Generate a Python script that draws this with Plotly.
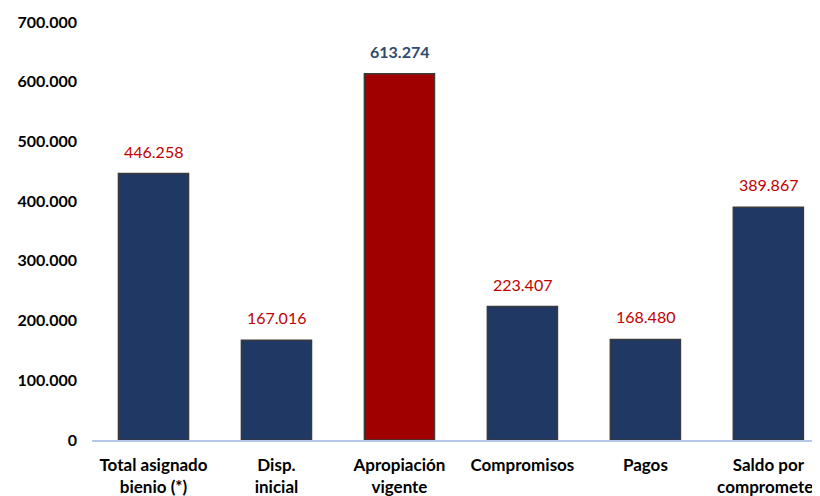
import plotly.graph_objects as go

categories = ["Total asignado<br>bienio (*)", "Disp.<br>inicial", "Apropiación<br>vigente",
              "Compromisos", "Pagos", "Saldo por<br>comprometer"]
values = [446258, 167016, 613274, 223407, 168480, 389867]
value_labels = ["446.258", "167.016", "613.274", "223.407", "168.480", "389.867"]
tick_vals = [0, 100000, 200000, 300000, 400000, 500000, 600000, 700000]
tick_text = ["0", "100.000", "200.000", "300.000", "400.000", "500.000", "600.000", "700.000"]

NAVY = "#1F3864"
RED = "#A00000"
bar_colors = [RED if i == 2 else NAVY for i in range(len(values))]
label_colors = ["#2E4A6E" if i == 2 else "#C00000" for i in range(len(values))]
label_bold = [i == 2 for i in range(len(values))]

FONT = "Lato"

fig = go.Figure()
fig.add_trace(go.Bar(
    x=list(range(len(categories))), y=values,
    marker=dict(color=bar_colors, line=dict(color="#3A3A3A", width=1.5)),
    width=0.57,
    hoverinfo="skip",
))

for i, (v, t) in enumerate(zip(values, value_labels)):
    fig.add_annotation(
        x=i, y=v, text=f"<b>{t}</b>" if label_bold[i] else t,
        showarrow=False, yanchor="bottom", yshift=11,
        font=dict(family=FONT, size=16, color=label_colors[i]),
    )

fig.update_layout(
    width=820, height=496,
    margin=dict(l=84, r=8, t=14, b=64, autoexpand=False),
    plot_bgcolor="white", paper_bgcolor="white",
    showlegend=False,
)
fig.update_xaxes(
    range=[-0.5, 5.42],
    tickmode="array", tickvals=list(range(len(categories))),
    ticktext=[f"<b>{c}</b>" for c in categories],
    tickfont=dict(family=FONT, size=17, color="black"),
    showline=True, linecolor="#B4C7E7", linewidth=1.5,
    ticks="", showgrid=False, zeroline=False,
    ticklabelstandoff=9, ticklabeloverflow="allow",
)
fig.update_yaxes(
    range=[0, 700000],
    tickmode="array", tickvals=tick_vals,
    ticktext=[f"<b>{t}</b>" for t in tick_text],
    tickfont=dict(family=FONT, size=16, color="black"),
    showgrid=False, zeroline=False, showline=False, ticks="",
    ticklabelstandoff=14, ticklabeloverflow="allow",
)

fig.write_html("out.html")
